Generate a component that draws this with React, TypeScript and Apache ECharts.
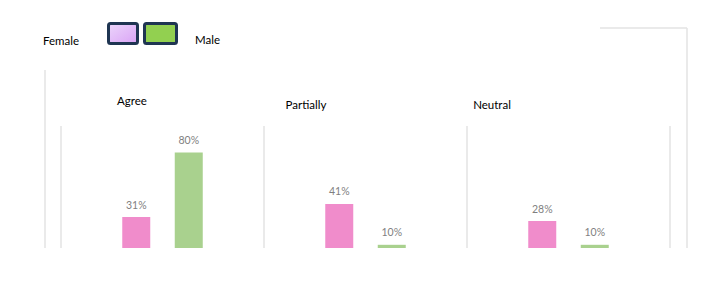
import React, { useEffect, useRef } from "react";
import * as echarts from "echarts";

const categories = ["Agree", "Partially", "Neutral"];
const femaleValues = [31, 41, 28];
const maleValues = [80, 10, 10];
const seriesNames = ["Female", "Male"];
const titleX = [132, 306, 492];
const titleY = [100, 104, 104];

export default function App() {
  const ref = useRef<HTMLDivElement>(null);
  useEffect(() => {
    if (!ref.current) return;
    const chart = echarts.init(ref.current, undefined, { renderer: "svg" });
    const font = "Lato, 'Noto Sans', sans-serif";
    const lineColor = "#e3e3e3";
    const labelStyle = {
      show: true,
      position: "top",
      distance: 7,
      formatter: "{c}%",
      color: "#7f7f7f",
      fontSize: 10.5,
      fontFamily: font,
    };
    chart.setOption({
      animation: false,
      backgroundColor: "#ffffff",
      grid: { left: 61, right: 721 - 670, top: 126, bottom: 298 - 258, containLabel: false },
      xAxis: {
        type: "category",
        data: categories,
        boundaryGap: true,
        axisLine: { show: false },
        axisTick: { show: false },
        axisLabel: { show: false },
        splitLine: { show: true, interval: 0, lineStyle: { color: lineColor, width: 1.5 } },
      },
      yAxis: {
        type: "value",
        min: 0,
        max: 100,
        show: false,
        splitLine: { show: false },
      },
      series: [
        {
          name: seriesNames[0],
          type: "bar",
          data: femaleValues,
          barWidth: 28,
          barGap: "87.5%",
          itemStyle: { color: "#f08ccb" },
          label: labelStyle,
        },
        {
          name: seriesNames[1],
          type: "bar",
          data: maleValues,
          barWidth: 28,
          itemStyle: { color: "#a9d18e" },
          label: labelStyle,
        },
      ],
      graphic: [
        // white mask cutting the bottom
        { type: "rect", shape: { x: 0, y: 248, width: 721, height: 50 }, style: { fill: "#ffffff" }, z: 100 },
        // outer frame lines
        { type: "line", shape: { x1: 45, y1: 70, x2: 45, y2: 248 }, style: { stroke: lineColor, lineWidth: 1.5 }, z: 101 },
        { type: "line", shape: { x1: 687, y1: 28, x2: 687, y2: 248 }, style: { stroke: lineColor, lineWidth: 1.5 }, z: 101 },
        { type: "line", shape: { x1: 600, y1: 28, x2: 687, y2: 28 }, style: { stroke: lineColor, lineWidth: 1.5 }, z: 101 },
        // legend
        {
          type: "text",
          x: 43,
          y: 40,
          style: { text: seriesNames[0], fill: "#000000", font: `11.5px ${font}`, textVerticalAlign: "middle" },
          z: 101,
        },
        {
          type: "rect",
          shape: { x: 108.5, y: 23.5, width: 29, height: 20, r: 2 },
          style: {
            fill: new echarts.graphic.LinearGradient(0, 0, 1, 1, [
              { offset: 0, color: "#ecd6fb" },
              { offset: 1, color: "#d9a2f5" },
            ]),
            stroke: "#1f3552",
            lineWidth: 3,
          },
          z: 101,
        },
        {
          type: "rect",
          shape: { x: 144.5, y: 23.5, width: 32, height: 20, r: 2 },
          style: { fill: "#92d050", stroke: "#1f3552", lineWidth: 3 },
          z: 101,
        },
        {
          type: "text",
          x: 195,
          y: 39,
          style: { text: seriesNames[1], fill: "#000000", font: `11.5px ${font}`, textVerticalAlign: "middle" },
          z: 101,
        },
        // category titles
        ...categories.map((c, i) => ({
          type: "text",
          x: titleX[i],
          y: titleY[i],
          style: {
            text: c,
            fill: "#000000",
            font: `11.5px ${font}`,
            textAlign: "center",
            textVerticalAlign: "middle",
          },
          z: 101,
        })),
      ],
    });
    return () => chart.dispose();
  }, []);
  return <div ref={ref} style={{ width: 721, height: 298, position: "absolute", left: 0, top: 0 }} />;
}
